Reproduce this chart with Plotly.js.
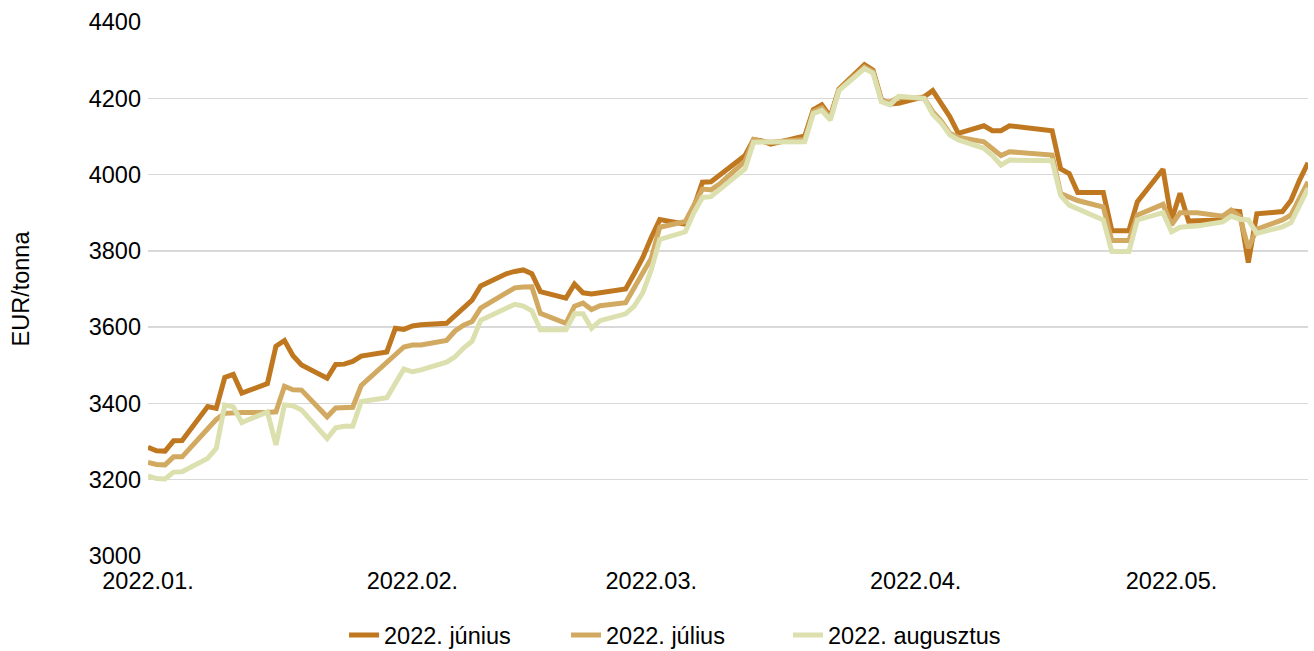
<!DOCTYPE html>
<html>
<head>
<meta charset="utf-8">
<script src="https://cdn.plot.ly/plotly-3.0.1.min.js"></script>
<style>
  html, body { margin: 0; padding: 0; background: #ffffff; }
  #chart { width: 1314px; height: 651px; }
</style>
</head>
<body>
<div id="chart"></div>
<script>
const dates = [
  '2022-01-03','2022-01-04','2022-01-05','2022-01-06','2022-01-07',
  '2022-01-10','2022-01-11','2022-01-12','2022-01-13','2022-01-14',
  '2022-01-17','2022-01-18','2022-01-19','2022-01-20','2022-01-21',
  '2022-01-24','2022-01-25','2022-01-26','2022-01-27','2022-01-28',
  '2022-01-31','2022-02-01','2022-02-02','2022-02-03','2022-02-04',
  '2022-02-07','2022-02-08','2022-02-09','2022-02-10','2022-02-11',
  '2022-02-14','2022-02-15','2022-02-16','2022-02-17','2022-02-18',
  '2022-02-21','2022-02-22','2022-02-23','2022-02-24','2022-02-25',
  '2022-02-28','2022-03-01','2022-03-02','2022-03-03','2022-03-04',
  '2022-03-07','2022-03-08','2022-03-09','2022-03-10','2022-03-11',
  '2022-03-14','2022-03-15','2022-03-16','2022-03-17','2022-03-18',
  '2022-03-21','2022-03-22','2022-03-23','2022-03-24','2022-03-25',
  '2022-03-28','2022-03-29','2022-03-30','2022-03-31','2022-04-01',
  '2022-04-04','2022-04-05','2022-04-06','2022-04-07','2022-04-08',
  '2022-04-11','2022-04-12','2022-04-13','2022-04-14',
  '2022-04-19','2022-04-20','2022-04-21','2022-04-22',
  '2022-04-25','2022-04-26','2022-04-27','2022-04-28','2022-04-29',
  '2022-05-02','2022-05-03','2022-05-04','2022-05-05','2022-05-06',
  '2022-05-09','2022-05-10','2022-05-11','2022-05-12','2022-05-13',
  '2022-05-16','2022-05-17','2022-05-18','2022-05-19'
];

const junius = [
  3285,3276,3275,3302,3303,
  3392,3387,3468,3476,3427,
  3452,3550,3565,3525,3501,
  3466,3502,3503,3510,3524,
  3535,3597,3594,3603,3606,
  3610,3630,3652,3671,3708,
  3740,3746,3750,3740,3693,
  3676,3713,3690,3687,3690,
  3700,3740,3782,3835,3882,
  3870,3915,3980,3981,3998,
  4050,4092,4088,4080,4086,
  4101,4170,4183,4152,4224,
  4288,4274,4196,4185,4187,
  4204,4220,4188,4152,4108,
  4128,4115,4115,4128,
  4115,4015,4003,3953,
  3953,3853,3853,3853,3929,
  4014,3881,3951,3878,3878,
  3881,3905,3903,3769,3897,
  3903,3932,3985,4031
];

const julius = [
  3245,3240,3239,3260,3260,
  3330,3358,3374,3376,3376,
  3376,3378,3445,3436,3435,
  3365,3388,3390,3390,3447,
  3507,3530,3548,3553,3553,
  3565,3590,3605,3615,3650,
  3690,3703,3705,3706,3636,
  3610,3655,3663,3646,3656,
  3664,3705,3742,3780,3862,
  3877,3918,3962,3960,3975,
  4035,4092,4087,4085,4087,
  4092,4165,4175,4148,4222,
  4282,4270,4193,4190,4203,
  4200,4165,4140,4108,4098,
  4086,4070,4050,4060,
  4051,3950,3940,3932,
  3915,3827,3827,3827,3894,
  3922,3868,3900,3900,3900,
  3891,3907,3890,3807,3857,
  3881,3894,3940,3981
];

const augusztus = [
  3210,3203,3202,3220,3221,
  3256,3282,3396,3391,3350,
  3378,3291,3396,3394,3383,
  3308,3336,3340,3340,3405,
  3415,3450,3490,3483,3488,
  3508,3522,3545,3563,3618,
  3648,3660,3655,3643,3593,
  3593,3635,3635,3597,3617,
  3635,3655,3690,3750,3830,
  3850,3900,3940,3942,3960,
  4015,4085,4085,4085,4085,
  4086,4160,4168,4143,4220,
  4278,4266,4191,4183,4205,
  4200,4158,4135,4104,4091,
  4069,4050,4025,4038,
  4036,3945,3920,3910,
  3881,3798,3798,3798,3881,
  3900,3850,3862,3864,3865,
  3876,3891,3883,3881,3846,
  3863,3874,3918,3964
];

const seriesNames = ['2022. június', '2022. július', '2022. augusztus'];
const seriesColors = ['#BF7820', '#D2A961', '#DCE0AF'];

const tickVals = ['2022-01-03','2022-02-03','2022-03-03','2022-04-03','2022-05-03'];
const tickText = ['2022.01.','2022.02.','2022.03.','2022.04.','2022.05.'];

const FONT = 'Liberation Sans, Arial, sans-serif';
const FS = 23.5;

const allSeries = [junius, julius, augusztus];
const traces = allSeries.map((vals, i) => ({
  type: 'scatter',
  mode: 'lines',
  x: dates,
  y: vals,
  name: seriesNames[i],
  line: { color: seriesColors[i], width: 5 },
  hoverinfo: 'x+y+name'
}));

const layout = {
  width: 1314,
  height: 651,
  paper_bgcolor: '#ffffff',
  plot_bgcolor: '#ffffff',
  margin: { l: 148, r: 6, t: 22, b: 95, autoexpand: false },
  font: { family: FONT, size: FS, color: '#000000' },
  xaxis: {
    type: 'date',
    range: ['2022-01-03', '2022-05-19'],
    tickmode: 'array',
    tickvals: tickVals,
    ticktext: tickText,
    showgrid: false,
    zeroline: false,
    showline: false,
    ticks: '',
    ticklabelstandoff: 8,
    tickfont: { family: FONT, size: FS, color: '#000000' },
    automargin: false,
    fixedrange: true
  },
  yaxis: {
    range: [3000, 4400],
    dtick: 200,
    tick0: 3000,
    showgrid: true,
    gridcolor: '#D9D9D9',
    gridwidth: 1.5,
    zeroline: false,
    showline: false,
    ticks: '',
    ticklabelstandoff: 6,
    tickfont: { family: FONT, size: FS, color: '#000000' },
    title: { text: 'EUR/tonna', font: { family: FONT, size: FS, color: '#000000' }, standoff: 52 },
    automargin: false,
    fixedrange: true
  },
  legend: {
    orientation: 'h',
    x: 0.169,
    xanchor: 'left',
    y: -0.107,
    yanchor: 'top',
    font: { family: FONT, size: FS, color: '#000000' },
    itemwidth: 30,
    entrywidth: 177,
    entrywidthmode: 'pixels',
    tracegroupgap: 0
  },
  showlegend: true
};

Plotly.newPlot('chart', traces, layout, { displayModeBar: false, staticPlot: true });
</script>
</body>
</html>
